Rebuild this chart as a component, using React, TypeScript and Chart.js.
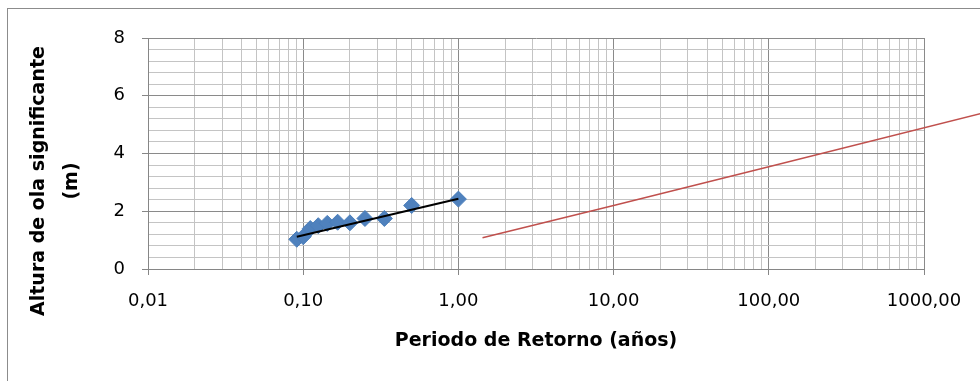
import React, { useEffect, useRef } from 'react';
import { Chart, registerables } from 'chart.js';

Chart.register(...registerables);

// Observed return periods (years) and significant wave heights (m)
const observedPeriods = [0.0909, 0.1, 0.1111, 0.125, 0.1429, 0.1667, 0.2, 0.25, 0.3333, 0.5, 1];
const observedHeights = [1.03, 1.12, 1.4, 1.5, 1.58, 1.62, 1.6, 1.75, 1.75, 2.2, 2.42];

// Black trend line
const trendPeriods = [0.0909, 1];
const trendHeights = [1.12, 2.43];

// Red fitted line (continues past the right edge of the plot)
const fitPeriods = [1.43, 10, 100, 2400];
const fitHeights = [1.08, 2.2, 3.54, 5.4];

// Axis ticks
const xDecades = [0.01, 0.1, 1, 10, 100, 1000];
const yMajorTicks = [0, 2, 4, 6, 8];
const yMinorStep = 0.4;

const FONT = "'DejaVu Sans', sans-serif";
const MAJOR = '#8a8a8a';
const MINOR = '#c4c4c4';
const AXIS = '#868686';

const isDecade = (v: number) => xDecades.some((d) => Math.abs(v / d - 1) < 1e-6);
const isYMajor = (v: number) => yMajorTicks.some((t) => Math.abs(v - t) < 1e-6);

const xTickValues: number[] = [];
xDecades.forEach((d, i) => {
  if (i === xDecades.length - 1) {
    xTickValues.push(d);
  } else {
    for (let m = 1; m <= 9; m++) xTickValues.push(Number((m * d).toPrecision(6)));
  }
});
const yTickValues: number[] = [];
const yMax = yMajorTicks[yMajorTicks.length - 1];
for (let i = 0; i * yMinorStep <= yMax + 1e-9; i++) {
  yTickValues.push(Math.round(i * yMinorStep * 1000) / 1000);
}

const toPts = (xs: number[], ys: number[]) => xs.map((x, i) => ({ x, y: ys[i] }));

const framePlugin = {
  id: 'frame',
  beforeDraw(chart: any) {
    const { ctx, width, height } = chart;
    ctx.save();
    ctx.fillStyle = '#ffffff';
    ctx.fillRect(0, 0, width, height);
    ctx.strokeStyle = '#8c8c8c';
    ctx.lineWidth = 1;
    ctx.strokeRect(7.5, 8.5, width + 100, height + 100);
    ctx.restore();
  },
  afterDraw(chart: any) {
    const { ctx } = chart;
    ctx.save();
    ctx.fillStyle = '#000';
    ctx.font = `bold 19px ${FONT}`;
    ctx.textAlign = 'center';
    ctx.textBaseline = 'middle';
    ctx.translate(39, 181);
    ctx.rotate(-Math.PI / 2);
    ctx.fillText('Altura de ola significante', 0, 0);
    ctx.fillText('(m)', 0, 33);
    ctx.restore();
  },
};

export default function App() {
  const ref = useRef<HTMLCanvasElement | null>(null);

  useEffect(() => {
    if (!ref.current) return;
    Chart.defaults.font.family = FONT;
    const chart = new Chart(ref.current, {
      type: 'scatter',
      data: {
        datasets: [
          {
            label: 'Tendencia',
            data: toPts(trendPeriods, trendHeights),
            showLine: true,
            borderColor: '#000000',
            borderWidth: 2,
            pointRadius: 0,
            order: 0,
          },
          {
            label: 'Observado',
            data: toPts(observedPeriods, observedHeights),
            pointStyle: 'rectRot',
            pointRadius: 8,
            backgroundColor: '#4F81BD',
            borderColor: '#4A7EBB',
            borderWidth: 1,
            order: 1,
          },
          {
            label: 'Ajuste',
            data: toPts(fitPeriods, fitHeights),
            showLine: true,
            borderColor: '#C0504D',
            borderWidth: 1.5,
            pointRadius: 0,
            clip: false,
            order: 2,
          },
        ],
      } as any,
      options: {
        responsive: false,
        animation: false,
        devicePixelRatio: 1,
        events: [],
        layout: { padding: { left: 0, top: 38, right: 56, bottom: 0 } },
        plugins: { legend: { display: false }, tooltip: { enabled: false } },
        scales: {
          x: {
            type: 'logarithmic',
            min: 0.01,
            max: 1000,
            afterBuildTicks: (s: any) => {
              s.ticks = xTickValues.map((v) => ({ value: v }));
            },
            afterFit: (s: any) => {
              s.height = 112;
            },
            grid: {
              color: (c: any) => (isDecade(c.tick.value) ? MAJOR : MINOR),
              tickColor: (c: any) => (isDecade(c.tick.value) ? AXIS : 'rgba(0,0,0,0)'),
              tickLength: 6,
              lineWidth: 1,
            },
            border: { color: AXIS, width: 1 },
            ticks: {
              autoSkip: false,
              maxRotation: 0,
              minRotation: 0,
              padding: 16,
              color: '#000',
              font: { family: FONT, size: 18 },
              callback: (v: any) => (isDecade(Number(v)) ? Number(v).toFixed(2).replace('.', ',') : ''),
            },
            title: {
              display: true,
              text: 'Periodo de Retorno (años)',
              color: '#000',
              font: { family: FONT, size: 19, weight: 'bold' },
              padding: { top: 0, bottom: 29 },
            },
          },
          y: {
            type: 'linear',
            min: 0,
            max: 8,
            afterBuildTicks: (s: any) => {
              s.ticks = yTickValues.map((v) => ({ value: v }));
            },
            afterFit: (s: any) => {
              s.width = 148;
            },
            grid: {
              color: (c: any) => (isYMajor(c.tick.value) ? MAJOR : MINOR),
              tickColor: (c: any) => (isYMajor(c.tick.value) ? AXIS : 'rgba(0,0,0,0)'),
              tickLength: 6,
              lineWidth: 1,
            },
            border: { color: AXIS, width: 1 },
            ticks: {
              autoSkip: false,
              padding: 17,
              color: '#000',
              font: { family: FONT, size: 18 },
              callback: (v: any) => (isYMajor(Number(v)) ? String(Math.round(Number(v))) : ''),
            },
          },
        },
      } as any,
      plugins: [framePlugin],
    });
    return () => chart.destroy();
  }, []);

  return (
    <div
      style={{
        position: 'fixed',
        left: 0,
        top: 0,
        width: 980,
        height: 381,
        overflow: 'hidden',
        background: '#fff',
      }}
    >
      <canvas ref={ref} width={980} height={381} style={{ display: 'block', width: 980, height: 381 }} />
    </div>
  );
}
